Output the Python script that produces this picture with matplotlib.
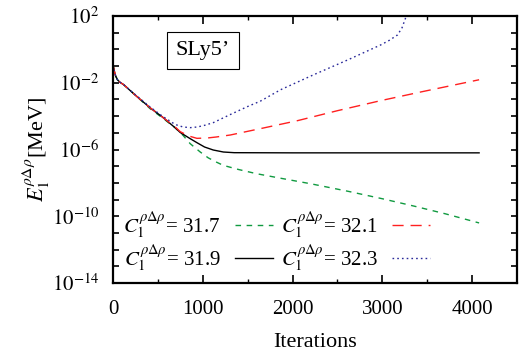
import numpy as np
import matplotlib.pyplot as plt

plt.rcParams['font.family'] = 'Liberation Serif'
plt.rcParams['mathtext.fontset'] = 'stix'

# iterations and log10(E)
it_317 = [0, 15, 30, 50, 78, 120, 250, 413, 550, 693, 780, 860, 972, 1061, 1150, 1229, 1400,
          1600, 1866, 2200, 2615, 3000, 3360, 3700, 4078]
e_317 = [-0.93, -1.3, -1.6, -1.82, -1.97, -2.12, -2.75, -3.55, -4.1, -4.7, -5.15, -5.65, -6.15,
         -6.5, -6.75, -6.95, -7.2, -7.45, -7.72, -8.05, -8.5, -8.95, -9.4, -9.85, -10.4]

it_319 = [0, 15, 30, 50, 78, 120, 250, 413, 550, 693, 749, 860, 935, 1020, 1117, 1230, 1350,
          2000, 3000, 4078]
e_319 = [-0.93, -1.3, -1.6, -1.82, -1.97, -2.12, -2.75, -3.5, -4.05, -4.7, -4.98, -5.35, -5.59,
         -5.85, -6.03, -6.15, -6.19, -6.2, -6.2, -6.2]

it_321 = [0, 15, 30, 50, 78, 120, 250, 413, 550, 693, 749, 850, 935, 1050, 1150, 1307, 1676,
          2056, 2503, 2983, 3430, 4078]
e_321 = [-0.93, -1.3, -1.6, -1.82, -1.97, -2.12, -2.75, -3.5, -4.05, -4.65, -4.93, -5.2, -5.33,
         -5.31, -5.25, -5.13, -4.71, -4.27, -3.67, -3.07, -2.55, -1.82]

it_323 = [0, 15, 30, 50, 78, 120, 250, 413, 550, 693, 780, 860, 940, 1020, 1117, 1300, 1497,
          1642, 1866, 2235, 2615, 2983, 3080, 3170, 3220, 3250, 3274]
e_323 = [-0.93, -1.3, -1.6, -1.82, -1.97, -2.12, -2.72, -3.45, -4.0, -4.5, -4.65, -4.69, -4.65,
         -4.55, -4.39, -3.92, -3.43, -3.1, -2.42, -1.52, -0.63, 0.27, 0.55, 0.87, 1.3, 1.75, 2.1]

fig = plt.figure(figsize=(5.27, 3.64), dpi=100)
ax = fig.add_axes([0.2144, 0.2225, 0.7666, 0.7335])

lab = r'$C_{\mathit{1}}^{\rho\Delta\rho}$= '
ax.plot(it_317, 10.0 ** np.array(e_317), color='#109a40', ls=(0, (4, 4)), lw=1.0,
        label=lab + '31.7')
ax.plot(it_319, 10.0 ** np.array(e_319), color='black', ls='-', lw=1.0,
        label=lab + '31.9')
ax.plot(it_321, 10.0 ** np.array(e_321), color='#ff2020', ls=(0, (8, 5)), lw=1.0,
        label=lab + '32.1')
ax.plot(it_323, 10.0 ** np.array(e_323), color='#2a2a9a', ls=(0, (1.2, 2.2)), lw=1.0,
        label=lab + '32.3')

ax.set_yscale('log')
ax.set_xlim(0, 4500)
ax.set_ylim(1e-14, 1e2)

ax.set_xticks([0, 1000, 2000, 3000, 4000])
ax.set_xticks(np.arange(500, 4500, 1000), minor=True)
decades = np.arange(-14, 3)
ax.set_yticks(10.0 ** decades)
ax.set_yticklabels([r'$10^{%d}$' % d if d % 4 == 2 else '' for d in decades])
ax.yaxis.set_minor_locator(plt.NullLocator())

ax.tick_params(which='both', direction='in', top=True, right=True, labelsize=15)
ax.tick_params(axis='x', pad=12)
ax.tick_params(axis='y', pad=10)
ax.tick_params(which='major', length=6, width=1.2)
ax.tick_params(which='minor', length=3, width=1.0)
ax.tick_params(axis='y', which='major', length=4)
for s in ax.spines.values():
    s.set_linewidth(1.6)

ax.set_xlabel('Iterations', fontsize=16, labelpad=10)
ax.set_ylabel(r'$E_{\mathit{1}}^{\rho\Delta\rho}$[MeV]', fontsize=16, labelpad=0)

ax.text(0.223, 0.871, 'SLy5\u2019', transform=ax.transAxes, fontsize=16,
        ha='center', va='center',
        bbox=dict(boxstyle='square,pad=0.4', fc='white', ec='black', lw=0.8))

ax.legend(loc='lower left', ncol=2, frameon=False, markerfirst=False,
          fontsize=15, handlelength=1.8, columnspacing=0.4, labelspacing=0.1,
          handletextpad=0.7, borderaxespad=0.1, bbox_to_anchor=(0.0, 0.0))

fig.savefig('out.png', dpi=100)
